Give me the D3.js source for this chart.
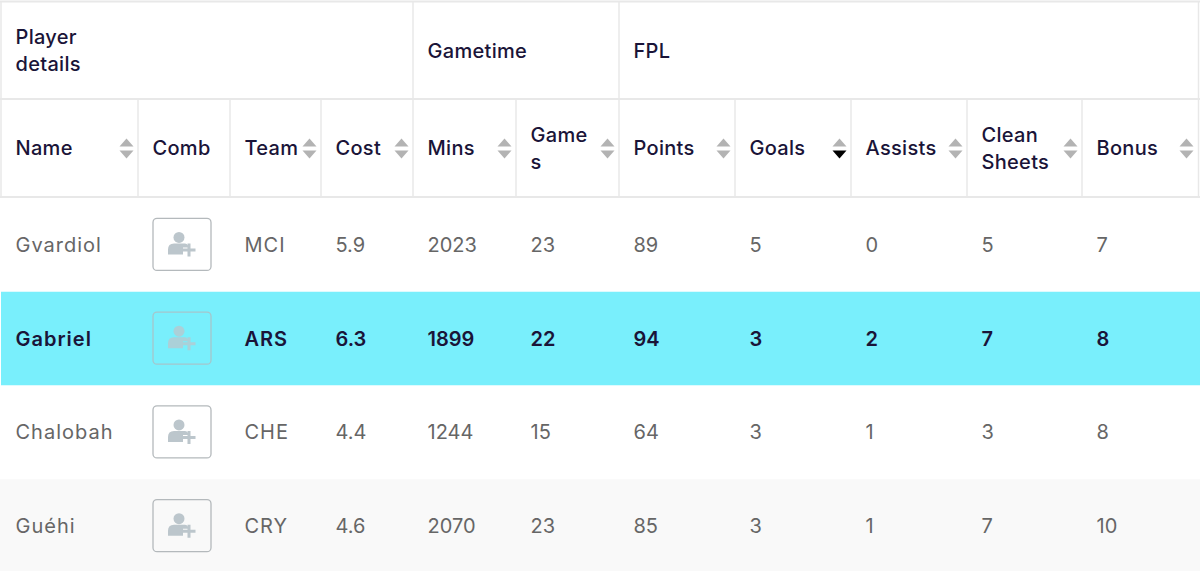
<!DOCTYPE html>
<html>
<head>
<meta charset="utf-8">
<script src="https://cdn.jsdelivr.net/npm/d3@7"></script>
<style>
html, body { margin: 0; padding: 0; background: #fff; overflow: hidden; }
text { font-family: Inter, sans-serif; }
</style>
</head>
<body>
<div id="viz"></div>
<script>
var groups = [['Player', 'details'], ['Gametime'], ['FPL']];
var groupSpans = [[0, 3], [4, 5], [6, 10]];
var columns = [['Name'], ['Comb'], ['Team'], ['Cost'], ['Mins'], ['Game', 's'], ['Points'], ['Goals'], ['Assists'], ['Clean', 'Sheets'], ['Bonus']];

var players = ['Gvardiol', 'Gabriel', 'Chalobah', 'Guéhi'];
var teams = ['MCI', 'ARS', 'CHE', 'CRY'];
var cost = ['5.9', '6.3', '4.4', '4.6'];
var mins = [2023, 1899, 1244, 2070];
var games = [23, 22, 15, 23];
var points = [89, 94, 64, 85];
var goals = [5, 3, 3, 3];
var assists = [0, 2, 1, 1];
var cleanSheets = [5, 7, 3, 7];
var bonus = [7, 8, 8, 10];

var highlightRow = 1, shadedRow = 3, sortedColumn = 7;

var width = 1200, height = 571;
var edges = [1, 138, 230, 321, 413, 516, 619, 735, 851, 967, 1082, 1198];
var dark = '#1a1438', grey = '#666666', line = '#e8e8e8', arrow = '#b3b3b3';

var rowY = d3.scaleBand().domain(d3.range(players.length)).range([198, 573]);
var colX = function(i) { return edges[i]; };

var svg = d3.select('#viz').append('svg')
    .attr('width', width)
    .attr('height', height)
    .style('display', 'block');

// row backgrounds
svg.selectAll('rect.row').data(players)
    .enter().append('rect')
    .attr('class', 'row')
    .attr('x', function(d, i) { return i == highlightRow ? 1 : 0; })
    .attr('y', function(d, i) { return rowY(i); })
    .attr('width', width)
    .attr('height', rowY.bandwidth())
    .attr('fill', function(d, i) {
        if (i == highlightRow) return '#79effc';
        return i == shadedRow ? '#f9f9f9' : '#fff';
    });

// header grid
function hLine(y, x1, x2) {
    svg.append('line').attr('x1', x1).attr('x2', x2).attr('y1', y).attr('y2', y)
        .attr('stroke', line).attr('stroke-width', 2);
}
function vLine(x, y1, y2) {
    svg.append('line').attr('x1', x).attr('x2', x).attr('y1', y1).attr('y2', y2)
        .attr('stroke', line).attr('stroke-width', 1.5);
}
hLine(1.5, 0, 1200);
hLine(99, 0, 1200);
hLine(197, 0, 1200);
vLine(1, 1, 197);
vLine(1198.5, 1, 197);
[413, 619].forEach(function(x) { vLine(x, 1, 99); });
edges.slice(1, -1).forEach(function(x) { vLine(x, 99, 197); });

function multiline(sel, lines, x, cy, lh) {
    lines.forEach(function(t, i) {
        sel.append('text')
            .attr('x', x)
            .attr('y', cy + (i - (lines.length - 1) / 2) * lh + 7)
            .text(t);
    });
}

var head = svg.append('g').attr('fill', dark).attr('font-size', 20).attr('font-weight', 500)
    .style('letter-spacing', '0.3px');
groups.forEach(function(g, i) {
    multiline(head, g, colX(groupSpans[i][0]) + 14.5, 50.5, 27);
});
columns.forEach(function(c, i) {
    multiline(head, c, colX(i) + 14.5, 148, 27);
});

// sort arrows
var arrows = svg.selectAll('g.sort').data(columns)
    .enter().append('g')
    .attr('class', 'sort')
    .attr('transform', function(d, i) { return 'translate(' + (edges[i + 1] - 11.5) + ',148.5)'; })
    .style('display', function(d, i) { return i == 1 ? 'none' : null; });
arrows.append('path').attr('d', 'M-7,-2L0,-10L7,-2Z').attr('fill', arrow);
arrows.append('path').attr('d', 'M-7,2L0,10L7,2Z')
    .attr('fill', function(d, i) { return i == sortedColumn ? '#000' : arrow; });

// body cells
var cols = [players, null, teams, cost, mins, games, points, goals, assists, cleanSheets, bonus];
cols.forEach(function(values, c) {
    if (!values) return;
    svg.append('g').selectAll('text').data(values)
        .enter().append('text')
        .attr('x', colX(c) + 14.5)
        .attr('y', function(d, i) { return rowY(i) + rowY.bandwidth() / 2 + 7; })
        .attr('font-size', 20)
        .attr('font-weight', function(d, i) { return i == highlightRow ? 600 : 400; })
        .attr('fill', function(d, i) { return i == highlightRow ? dark : grey; })
        .style('letter-spacing', c == 0 || c == 2 ? '1px' : null)
        .text(function(d) { return d; });
});

// combine buttons
var buttons = svg.selectAll('g.btn').data(players)
    .enter().append('g')
    .attr('class', 'btn')
    .attr('transform', function(d, i) {
        return 'translate(' + (colX(1) + 44) + ',' + (rowY(i) + rowY.bandwidth() / 2 - 0.5) + ')';
    })
    .attr('opacity', function(d, i) { return i == highlightRow ? 0.75 : 1; });
buttons.append('rect')
    .attr('x', -29).attr('y', -26).attr('width', 58).attr('height', 52).attr('rx', 4)
    .attr('fill', 'none').attr('stroke', '#b4b9bc').attr('stroke-width', 1.3);
buttons.append('circle').attr('cx', -3).attr('cy', -7).attr('r', 5.5).attr('fill', '#bcc6cc');
buttons.append('path')
    .attr('d', 'M-14,10V5Q-14,-1 -8,-1H3Q5,-1 6,1V3H1V10Z')
    .attr('fill', '#bcc6cc');
buttons.append('path')
    .attr('d', 'M7,-1V12M0.5,5.5H13.5')
    .attr('stroke', '#bcc6cc').attr('stroke-width', 3).attr('fill', 'none');
</script>
</body>
</html>
